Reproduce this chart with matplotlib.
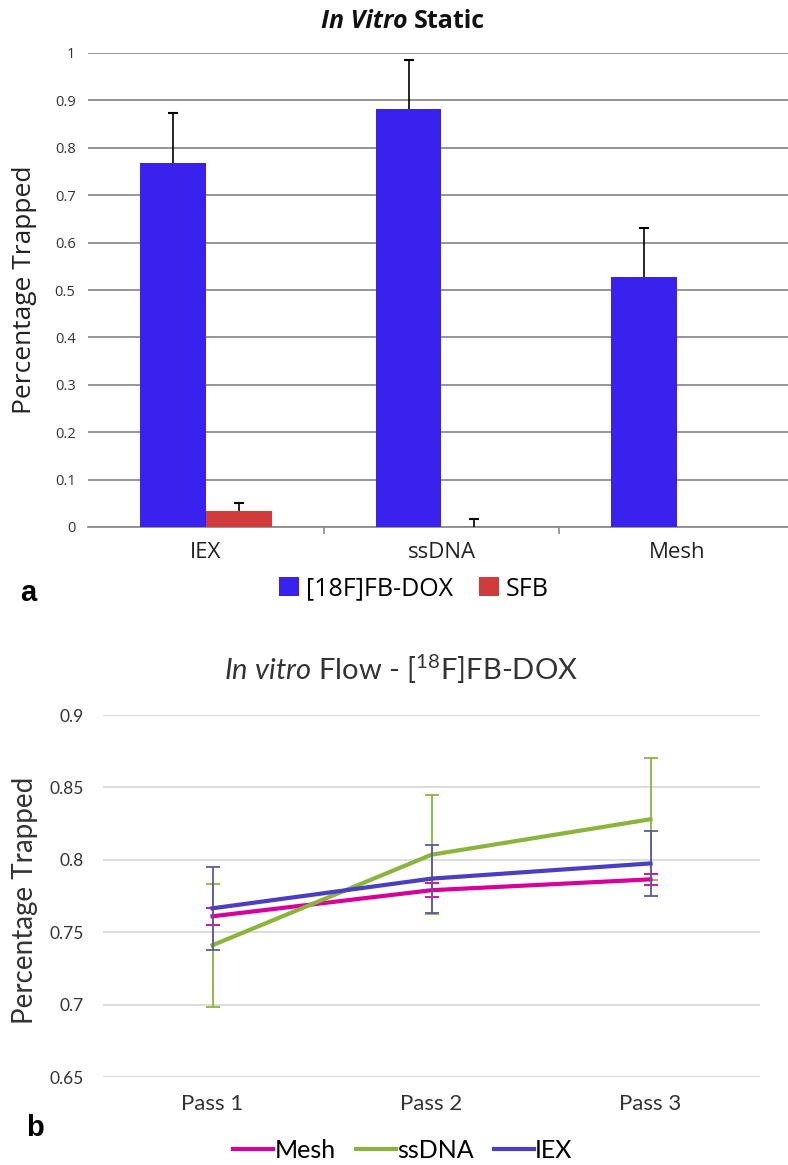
import matplotlib
matplotlib.use("Agg")
import matplotlib.pyplot as plt
import numpy as np

# ---- panel a data ----
static_cats = ["IEX", "ssDNA", "Mesh"]
dox_vals = [0.768, 0.882, 0.527]
dox_err = [0.105, 0.103, 0.103]
sfb_vals = [0.033, 0.0, 0.0]
sfb_err = [0.017, 0.017, 0.0]

# ---- panel b data ----
passes = ["Pass 1", "Pass 2", "Pass 3"]
mesh_vals = [0.761, 0.779, 0.7865]
mesh_err = [0.006, 0.005, 0.004]
ssdna_vals = [0.741, 0.8035, 0.828]
ssdna_err = [0.0425, 0.041, 0.042]
iex_vals = [0.7665, 0.787, 0.7975]
iex_err = [0.0285, 0.0235, 0.0225]

W, H = 788, 1165
fig = plt.figure(figsize=(W / 100, H / 100), dpi=100)

##top panel
top_font = "Open Sans"
ax1 = fig.add_axes([88 / W, 1 - 527 / H, 1 - 88 / W, (527 - 53) / H])
x = np.arange(len(static_cats))
bw = 0.28
ax1.bar(x - bw / 2, dox_vals, bw, color="#3a22ee", zorder=3, label="[18F]FB-DOX")
ax1.bar(x + bw / 2, sfb_vals, bw, color="#d03c3c", zorder=3, label="SFB")

##plus-only error bars (no cap at the bar top)
def plus_err(ax, xs, vals, errs):
    xs = np.asarray(xs)
    vals = np.asarray(vals)
    errs = np.asarray(errs)
    ax.vlines(xs, vals, vals + errs, color="black", linewidth=1.2, zorder=4)
    ax.plot(xs, vals + errs, linestyle="none", marker="_", markersize=7,
            markeredgewidth=1.5, color="black", zorder=4)

plus_err(ax1, x - bw / 2, dox_vals, dox_err)
plus_err(ax1, (x + bw / 2)[:2], sfb_vals[:2], sfb_err[:2])

ax1.set_ylim(0, 1)
ax1.set_xlim(-0.5, 2.5 - 7 / 236)
ax1.set_yticks(np.arange(0, 1.01, 0.1))
ax1.set_yticklabels(["0"] + ["%.1f" % v for v in np.arange(0.1, 0.95, 0.1)] + ["1"],
                    fontfamily=top_font, fontsize=10.5, color="#333333")
ax1.yaxis.grid(True, color="#8c8c8c", linewidth=1.3, zorder=0)
ax1.set_xticks(x)
ax1.set_xticklabels(static_cats, fontfamily=top_font, fontsize=16, color="#222222")
ax1.set_xticks([0.5, 1.5], minor=True)
ax1.tick_params(axis="x", which="major", length=0, pad=11)
ax1.tick_params(axis="x", which="minor", length=5, color="#8c8c8c", width=1.2)
ax1.tick_params(axis="y", length=0, pad=9)
for s in ["top", "right", "left"]:
    ax1.spines[s].set_visible(False)
ax1.spines["bottom"].set_color("#8c8c8c")
ax1.spines["bottom"].set_linewidth(1.3)
fig.text(25 / W, 1 - 290 / H, "Percentage Trapped", rotation=90, ha="center", va="center",
         fontfamily=top_font, fontsize=19, color="#222222")

fig.text(414 / W, 1 - 21 / H, "In Vitro ", ha="right", va="center", fontfamily=top_font,
         fontsize=18, fontweight="bold", fontstyle="italic", color="#111111")
fig.text(414 / W, 1 - 21 / H, "Static", ha="left", va="center", fontfamily=top_font,
         fontsize=18, fontweight="bold", color="#111111")

fig.legend(*ax1.get_legend_handles_labels(), loc="center", bbox_to_anchor=(414 / W, 1 - 589 / H),
           ncol=2, frameon=False, prop={"family": top_font, "size": 18},
           handlelength=0.8, handleheight=0.8, handletextpad=0.3, columnspacing=1.0)
fig.text(28 / W, 1 - 593 / H, "a", fontsize=21, fontweight="bold", ha="center", va="center",
         fontfamily="Liberation Sans")

##bottom panel
bot_font = "Lato"
plt.rcParams["mathtext.fontset"] = "custom"
plt.rcParams["mathtext.rm"] = bot_font
plt.rcParams["mathtext.it"] = bot_font + ":italic"
ax2 = fig.add_axes([103 / W, 1 - 1077 / H, (760 - 103) / W, (1077 - 715) / H])
xp = np.arange(len(passes)) + 0.5
ax2.errorbar(xp, mesh_vals, yerr=mesh_err, color="#d6009a", ecolor="#d6009a", linewidth=3,
             elinewidth=1.3, capsize=5, capthick=1.3, label="Mesh", zorder=3)
ax2.errorbar(xp, ssdna_vals, yerr=ssdna_err, color="#8bb43c", ecolor="#8bb43c", linewidth=3,
             elinewidth=1.3, capsize=5, capthick=1.3, label="ssDNA", zorder=3)
ax2.errorbar(xp, iex_vals, yerr=iex_err, color="#4a3fc4", ecolor="#5a5a9e", linewidth=3,
             elinewidth=1.3, capsize=5, capthick=1.3, label="IEX", zorder=4)
ax2.set_xlim(0, 3)
ax2.set_ylim(0.65, 0.9)
ax2.set_yticks([0.65, 0.7, 0.75, 0.8, 0.85, 0.9])
ax2.set_yticklabels(["0.65", "0.7", "0.75", "0.8", "0.85", "0.9"], fontfamily=bot_font,
                    fontsize=12.5, color="#333333")
ax2.yaxis.grid(True, color="#d9d9d9", linewidth=1.3, zorder=0)
ax2.set_xticks(xp)
ax2.set_xticklabels(passes, fontfamily=bot_font, fontsize=16, color="#333333")
ax2.tick_params(axis="both", length=0)
ax2.tick_params(axis="x", pad=12)
ax2.tick_params(axis="y", pad=14)
for s in ax2.spines.values():
    s.set_visible(False)
fig.text(25 / W, 1 - 900 / H, "Percentage Trapped", rotation=90, ha="center", va="center",
         fontfamily=bot_font, fontsize=20, color="#333333")

fig.text(401 / W, 1 - 669 / H, r"$\mathit{In\ vitro}$ Flow - [$^{18}$F]FB-DOX", ha="center",
         va="center", fontfamily=bot_font, fontsize=21, color="#333333")

handles, labels = ax2.get_legend_handles_labels()
handles = [h[0] for h in handles]
fig.legend(handles, labels, loc="center", bbox_to_anchor=(403 / W, 1 - 1150 / H), ncol=3,
           frameon=False, prop={"family": bot_font, "size": 18}, handlelength=1.6,
           handletextpad=0.05, columnspacing=0.8)
fig.text(35 / W, 1 - 1128 / H, "b", fontsize=21, fontweight="bold", ha="center", va="center",
         fontfamily="Liberation Sans")

fig.savefig("out.png", dpi=100, facecolor="white")
